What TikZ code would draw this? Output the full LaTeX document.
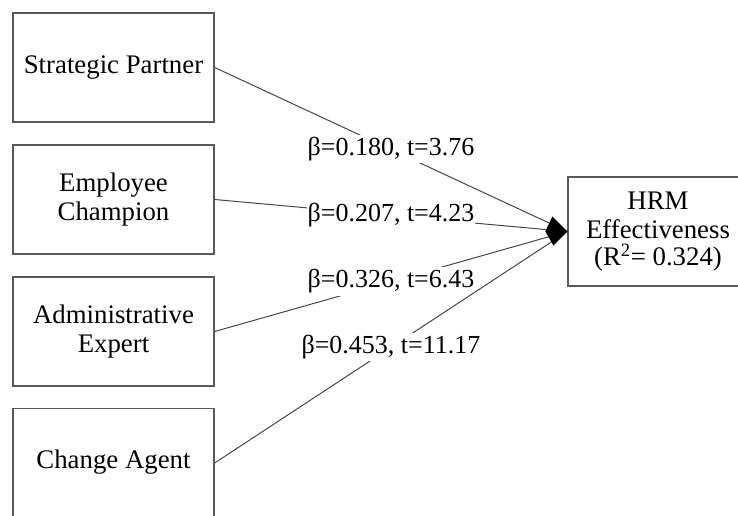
\documentclass[tikz,border=0pt]{standalone}
\usepackage{fontspec}
\setmainfont{Liberation Serif}
\begin{document}
\begin{tikzpicture}[x=1bp,y=-1bp,
  box/.style={draw=black!65,line width=1.3bp,minimum width=201bp,minimum height=109bp,
    align=center,inner sep=0pt,font=\fontsize{26.8bp}{29bp}\selectfont},
  conn/.style={draw=black!72,line width=1bp},
  lab/.style={fill=white,inner xsep=0.5bp,inner ysep=1.5bp,text height=19bp,text depth=6bp,
    font=\fontsize{26bp}{29bp}\selectfont,midway},
  tipshape/.style={fill=black}]
\useasboundingbox (0,0) rectangle (738,516);
\clip (0,0) rectangle (738,516);
\node[box] (sp) at (113.5,67.5) {\strut Strategic Partner};
\node[box] (ec) at (113.5,199.5) {Employee\\Champion};
\node[box] (ae) at (113.5,331.5) {Administrative\\Expert};
\node[box] (ca) at (113.5,463) {\strut Change Agent};
\node[box,minimum width=180bp] (hrm) at (658,231.5)
  {\begin{tabular}{@{}c@{}}HRM\\Effectiveness\\[-3bp](R\textsuperscript{2}= 0.324)\end{tabular}};
\draw[conn] (sp.east) -- (hrm.west) node[lab] (l1) {β=0.180, t=3.76};
\draw[conn] (ec.east) -- (hrm.west) node[lab] (l2) {β=0.207, t=4.23};
\draw[conn] (ae.east) -- (hrm.west) node[lab] (l3) {β=0.326, t=6.43};
\draw[conn] (ca.east) -- (hrm.west) node[lab] (l4) {β=0.453, t=11.17};
\fill[tipshape] (hrm.west) -- ++(-15,-15) -- ++(-7,15) -- ++(8,14) -- cycle;
\end{tikzpicture}
\end{document}
